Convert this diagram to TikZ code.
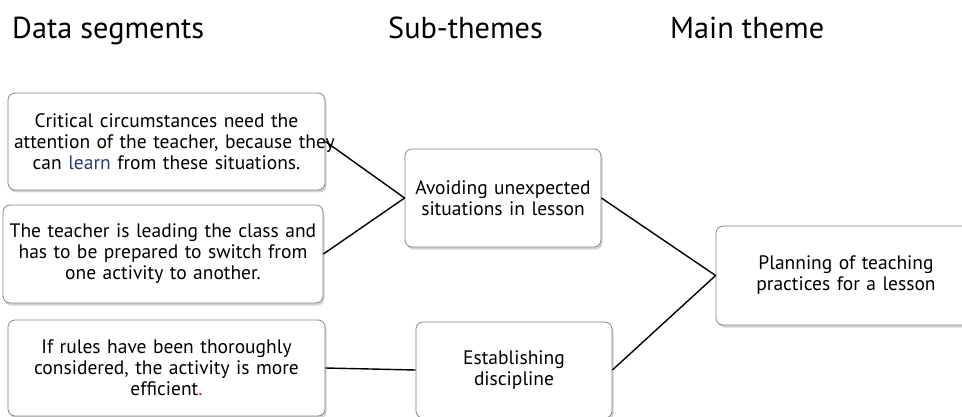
\documentclass[tikz,border=0pt]{standalone}
\usepackage{fontspec}
\setmainfont{PT Sans}
\usetikzlibrary{shadows}
\definecolor{learnblue}{HTML}{2B3A7E}
\definecolor{boxgray}{HTML}{858585}

\begin{document}
\begin{tikzpicture}[x=1pt, y=-1pt,
    seg/.style={draw=boxgray, fill=white, rounded corners=7pt, line width=0.8pt,
        drop shadow={shadow xshift=1.5pt, shadow yshift=-2.5pt, opacity=0.35, fill=gray},
        align=center, inner sep=0pt, font=\fontsize{19.5}{21}\selectfont},
    head/.style={anchor=base west, inner sep=0pt, font=\fontsize{30.3}{34}\selectfont},
    link/.style={line width=1.4pt}]
    \useasboundingbox (0,0) rectangle (962,417);
    % column titles
    \node[head] (hseg) at (12,39) {Data segments};
    \node[head] (hsub) at (388,39) {Sub-themes};
    \node[head] (hmain) at (670,39) {Main theme};
    % data segments
    \node[seg, text width=305pt, minimum width=317pt, minimum height=97pt] (crit) at (166.5,141.5)
        {Critical circumstances need the\\\mbox{attention of the teacher, because they}\\can \textcolor{learnblue}{learn} from these situations.};
    \node[seg, text width=308pt, minimum width=320pt, minimum height=98pt] (lead) at (163,254)
        {The teacher is leading the class and\\has to be prepared to switch from\\one activity to another.};
    \node[seg, text width=305pt, minimum width=317pt, minimum height=96pt] (rules) at (166.5,368)
        {If rules have been thoroughly\\considered, the activity is more\\efficient\textcolor{red}{.}};
    % sub-themes
    \node[seg, text width=190pt, minimum width=196pt, minimum height=98pt] (avoid) at (503,198)
        {Avoiding unexpected\\situations in lesson};
    \node[seg, text width=190pt, minimum width=196pt, minimum height=96pt] (disc) at (514,370)
        {Establishing\\discipline};
    % main theme
    \node[seg, text width=250pt, minimum width=260pt, minimum height=99pt] (plan) at (846,275.5)
        {Planning of teaching\\practices for a lesson};
    % links
    \draw[link] (crit.east) -- (avoid.west);
    \draw[link] (lead.east) -- (avoid.west);
    \draw[link] (rules.east) -- (disc.west);
    \draw[link] (avoid.east) -- (plan.west);
    \draw[link] (disc.east) -- (plan.west);
\end{tikzpicture}
\end{document}
